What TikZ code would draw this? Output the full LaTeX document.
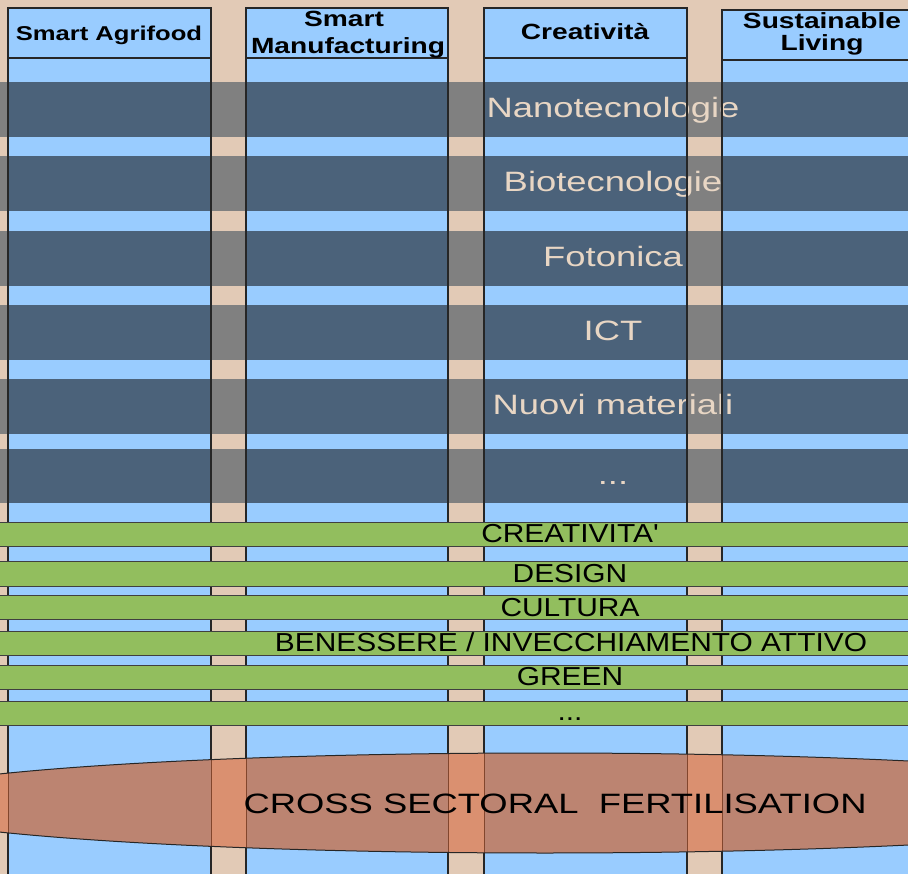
\documentclass[tikz,border=0pt]{standalone}
\usepackage{fontspec}
\setmainfont{Liberation Sans}
\newfontfamily\widefont[FakeStretch=1.3]{Liberation Sans}
\newfontfamily\midfont[FakeStretch=1.15]{Liberation Sans}
\newfontfamily\hdrfont[FakeStretch=1.28]{Liberation Sans}
\definecolor{tanbg}{RGB}{226,202,182}
\definecolor{colblue}{RGB}{153,204,255}
\definecolor{bandblue}{RGB}{75,98,122}
\definecolor{bandgray}{RGB}{128,128,128}
\definecolor{greenband}{RGB}{146,190,94}
\definecolor{ellfill}{RGB}{188,132,113}
\definecolor{elltan}{RGB}{218,144,112}
\definecolor{ellline}{RGB}{130,70,45}
\definecolor{bandtext}{RGB}{232,214,196}
\begin{document}
\begin{tikzpicture}[x=1pt,y=-1pt,
  colline/.style={draw=black!85,line width=1.1pt},
  greenbar/.style={fill=greenband,draw=black!75,line width=0.9pt},
  hdrtext/.style={anchor=base,inner sep=0pt,font=\hdrfont\bfseries\fontsize{22}{24}\selectfont},
  bandlabel/.style={anchor=base,inner sep=0pt,text=bandtext,font=\widefont\fontsize{28}{30}\selectfont},
  greenlabel/.style={anchor=base,inner sep=0pt,text=black,font=\midfont\fontsize{26}{28}\selectfont},
  crosslabel/.style={anchor=base,inner sep=0pt,text=black,font=\widefont\fontsize{28}{30}\selectfont}]
\useasboundingbox (0,0) rectangle (908,874);
\clip (0,0) rectangle (908,874);
\fill[tanbg] (0,0) rectangle (908,874);
% columns
\foreach \l/\r/\t in {8/211/8, 246/448/8, 484/687/8, 722/930/10}
  \fill[colblue] (\l,\t) rectangle (\r,890);
% dark bands
\foreach \a/\b in {82/137,156/211,231/286,305/360,379/434,449/503}{
  \fill[bandgray] (0,\a) rectangle (908,\b);
  \foreach \l/\r in {8/211, 246/448, 484/687, 722/930}
    \fill[bandblue] (\l,\a) rectangle (\r,\b);
}
% band labels
\node[bandlabel] (nano) at (613,118) {Nanotecnologie};
\node[bandlabel] (bio) at (613,192) {Biotecnologie};
\node[bandlabel] (foto) at (613,267) {Fotonica};
\node[bandlabel] (ict) at (613,341) {ICT};
\node[bandlabel] (nuovi) at (613,415) {Nuovi materiali};
\node[bandlabel] (more1) at (613,485) {...};
% column outlines and header lines
\foreach \l/\r/\t/\h in {8/211/8/58, 246/448/8/58, 484/687/8/58, 722/930/10/60}{
  \draw[colline] (\l,890) -- (\l,\t) -- (\r,\t) -- (\r,890);
  \draw[colline] (\l,\h) -- (\r,\h);
}
% headers
\node[hdrtext,font=\hdrfont\bfseries\fontsize{20}{22}\selectfont] (h1) at (109,41) {Smart Agrifood};
\node[hdrtext] (h2a) at (344,27) {Smart};
\node[hdrtext] (h2b) at (348,54) {Manufacturing};
\node[hdrtext] (h3) at (585,40) {Creativit\`a};
\node[hdrtext] (h4a) at (822,29) {Sustainable};
\node[hdrtext] (h4b) at (822,51) {Living};
% green bands
\foreach \a/\b in {522/546,561/586,595/619,631/655,665/689,701/725}
  \draw[greenbar] (-2,\a) rectangle (910,\b);
\node[greenlabel] (g1) at (570,542) {CREATIVITA'};
\node[greenlabel] (g2) at (570,582) {DESIGN};
\node[greenlabel] (g3) at (570,616) {CULTURA};
\node[greenlabel] (g4) at (571,651) {BENESSERE / INVECCHIAMENTO ATTIVO};
\node[greenlabel] (g5) at (570,685) {GREEN};
\node[greenlabel] (g6) at (570,720) {...};
% cross sectoral ellipse
\fill[ellfill] (545,803) ellipse [x radius=670pt, y radius=50pt];
\begin{scope}
  \clip (545,803) ellipse [x radius=670pt, y radius=50pt];
  \foreach \l/\r in {0/8, 211/246, 448/484, 687/722}
    \fill[elltan] (\l,740) rectangle (\r,870);
  \foreach \x in {8,211,246,448,484,687,722}
    \draw[ellline,line width=1pt] (\x,740) -- (\x,870);
\end{scope}
\draw[black!85,line width=1pt] (545,803) ellipse [x radius=670pt, y radius=50pt];
\node[crosslabel] (cross) at (555,813) {CROSS SECTORAL\ \ FERTILISATION};
\end{tikzpicture}
\end{document}
